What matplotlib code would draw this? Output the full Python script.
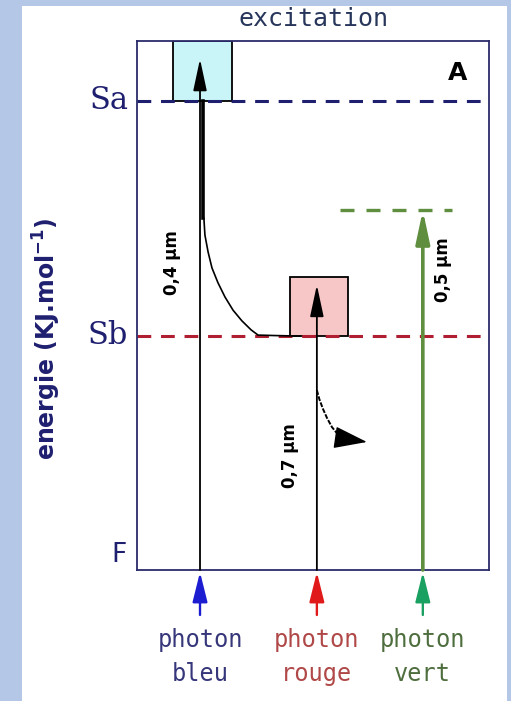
import matplotlib.pyplot as plt
from matplotlib.patches import Rectangle

# niveaux d'energie (unites arbitraires, F = 0)
niveaux = ["Sa", "Sb", "F"]
energies = [88.7, 44.3, 0.0]
niveau_vert = 68.0

# photons incidents
photons = ["photon\nbleu", "photon\nrouge", "photon\nvert"]
photon_x = [1.79, 5.11, 8.12]
photon_fin = [96.6, 53.9, 68.0]
longueurs_onde = ["0,4 µm", "0,7 µm", "0,5 µm"]

# relaxation Sa -> Sb
relax_x = [1.90, 1.93, 2.02, 2.13, 2.30, 2.50, 2.73, 2.98, 3.24, 3.44, 4.63]
relax_y = [66.5, 63.3, 60.1, 57.1, 54.3, 51.6, 49.1, 47.1, 45.4, 44.4, 44.2]

# emission depuis Sb
fluo_x = [5.11, 5.18, 5.28, 5.40, 5.54, 5.70, 5.85]
fluo_y = [34.0, 32.3, 30.5, 28.7, 27.0, 25.7, 24.9]
fluo_fin = (6.53, 24.2)

W, H = 511, 701
fig = plt.figure(figsize=(W / 100, H / 100), dpi=100, facecolor="#b4c7e6")
fig.patches.append(Rectangle((22 / W, 0), 485 / W, 695 / H, transform=fig.transFigure,
                             facecolor="white", edgecolor="none", zorder=-10))

ax = fig.add_axes([137 / W, 131 / H, 352 / W, 529 / H])
ax.set_xlim(0, 10)
ax.set_ylim(0, 100)
ax.set_xticks([])
ax.set_yticks([])
for s in ax.spines.values():
    s.set_color("#2b2b6b")
    s.set_linewidth(1.3)

navy = "#1f1f70"

# boites
ax.add_patch(Rectangle((1.02, energies[0]), 1.68, 100 - energies[0], facecolor="#c9f5f8",
                       edgecolor="black", lw=1.3, zorder=1))
ax.add_patch(Rectangle((4.35, energies[1]), 1.65, 55.4 - energies[1], facecolor="#f7c6c6",
                       edgecolor="black", lw=1.3, zorder=1))

# niveaux
ax.axhline(energies[0], color=navy, lw=2.2, ls=(0, (4.5, 3.2)), zorder=2, clip_on=False)
ax.axhline(energies[1], color="#b01e32", lw=2.2, ls=(0, (4.5, 3.2)), zorder=2)
ax.plot([5.77, 8.95], [niveau_vert, niveau_vert], color="#5e8e3e", lw=2.4,
        ls=(0, (4.2, 3.6)), zorder=2)

for nom, e in zip(niveaux, energies):
    if nom == "F":
        ax.text(-0.3, e + 0.3, nom, ha="right", va="bottom", color=navy,
                fontsize=19, family="DejaVu Sans", clip_on=False)
    else:
        ax.text(-0.25, e, nom, ha="right", va="center", color=navy,
                fontsize=22, family="DejaVu Serif", clip_on=False)

# transitions dans la boite
couleurs_trait = ["black", "black", "#5e8e3e"]
epaisseurs = [1.3, 1.3, 2.6]
for x, fin, c, lw in zip(photon_x, photon_fin, couleurs_trait, epaisseurs):
    ax.annotate("", xy=(x, fin), xytext=(x, 0),
                arrowprops=dict(arrowstyle="-|>,head_length=1.5,head_width=0.32",
                                mutation_scale=13, color=c, lw=lw, shrinkA=0, shrinkB=0),
                zorder=3)
ax.plot([1.87, 1.87], [energies[0], relax_y[0]], color="black", lw=2.6, zorder=3)
ax.plot(relax_x, relax_y, color="black", lw=1.2, zorder=3)
ax.plot(fluo_x, fluo_y, color="black", lw=1.4, ls=(0, (2.5, 0.8)), zorder=3)
ax.annotate("", xy=fluo_fin, xytext=(fluo_x[-1] - 0.05, fluo_y[-1]),
            arrowprops=dict(arrowstyle="-|>,head_length=1.5,head_width=0.5",
                            mutation_scale=14, color="black", lw=1, shrinkA=0, shrinkB=0),
            zorder=3)

# longueurs d'onde
pos_lo = [(0.99, 58.2), (4.35, 21.7), (8.69, 56.7)]
for txt, (x, y) in zip(longueurs_onde, pos_lo):
    ax.text(x, y, txt, rotation=90, ha="center", va="center", fontsize=12,
            fontweight="bold", color="black")

ax.text(9.12, 94.0, "A", ha="center", va="center", fontsize=18, fontweight="bold")

# photons sous la boite
couleurs_photon = ["#1c1cd0", "#e01a1a", "#1aa060"]
couleurs_label = ["#36367a", "#b04848", "#4e6e3e"]
for x, nom, c, cl in zip(photon_x, photons, couleurs_photon, couleurs_label):
    ax.annotate("", xy=(x, -0.4), xytext=(x, -8.5),
                arrowprops=dict(arrowstyle="-|>,head_length=1.4,head_width=0.35",
                                mutation_scale=13, color=c, lw=1.7, shrinkA=0, shrinkB=0),
                annotation_clip=False)
    ax.text(x, -11.0, nom, ha="center", va="top", color=cl, fontsize=17,
            family="DejaVu Sans Mono", linespacing=1.5, clip_on=False)

ax.set_title("excitation", fontsize=18, family="DejaVu Sans Mono", color="#27365a", pad=11)
ax.text(-2.56, 43.7, "energie (KJ.mol$^{\\mathbf{-1}}$)", rotation=90, ha="center",
        va="center", fontsize=17, fontweight="bold", color=navy, clip_on=False)

fig.savefig("out.png", dpi=100, facecolor=fig.get_facecolor())
